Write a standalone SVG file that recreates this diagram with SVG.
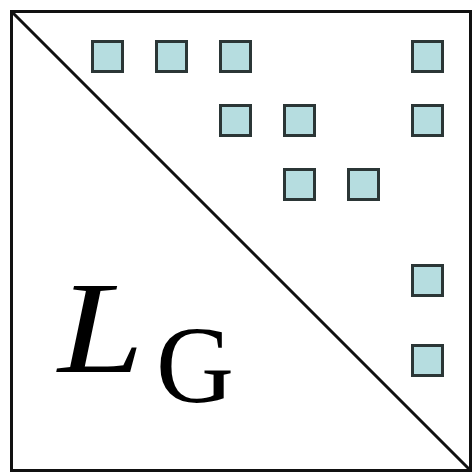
<svg xmlns="http://www.w3.org/2000/svg" width="474" height="475" viewBox="0 0 474 475">
<style>
.sq{fill:#b6dde0;stroke:#2b3636;stroke-width:3}
.ln{stroke:#111;stroke-width:3;fill:none}
.t{font-family:"Liberation Serif","Times New Roman",serif;fill:#000}
</style>
<rect x="0" y="0" width="474" height="475" fill="#fff"/>
<g id="frame">
<rect class="ln" x="11.5" y="11.5" width="459" height="459"/>
</g>
<g id="connectors">
<line class="ln" x1="11.5" y1="11.5" x2="470.5" y2="470.5"/>
</g>
<g id="cells">
<rect class="sq" x="92.5" y="41.5" width="30" height="30"/>
<rect class="sq" x="156.5" y="41.5" width="30" height="30"/>
<rect class="sq" x="220.5" y="41.5" width="30" height="30"/>
<rect class="sq" x="412.5" y="41.5" width="30" height="30"/>
<rect class="sq" x="220.5" y="105.5" width="30" height="30"/>
<rect class="sq" x="284.5" y="105.5" width="30" height="30"/>
<rect class="sq" x="412.5" y="105.5" width="30" height="30"/>
<rect class="sq" x="284.5" y="169.5" width="30" height="30"/>
<rect class="sq" x="348.5" y="169.5" width="30" height="30"/>
<rect class="sq" x="412.5" y="265.5" width="30" height="30"/>
<rect class="sq" x="412.5" y="345.5" width="30" height="30"/>
</g>
<g id="label">
<text class="t" x="58" y="372" font-size="132" font-style="italic" textLength="86" lengthAdjust="spacingAndGlyphs">L</text>
<text class="t" x="156" y="402" font-size="110" textLength="78" lengthAdjust="spacingAndGlyphs">G</text>
</g>
</svg>
